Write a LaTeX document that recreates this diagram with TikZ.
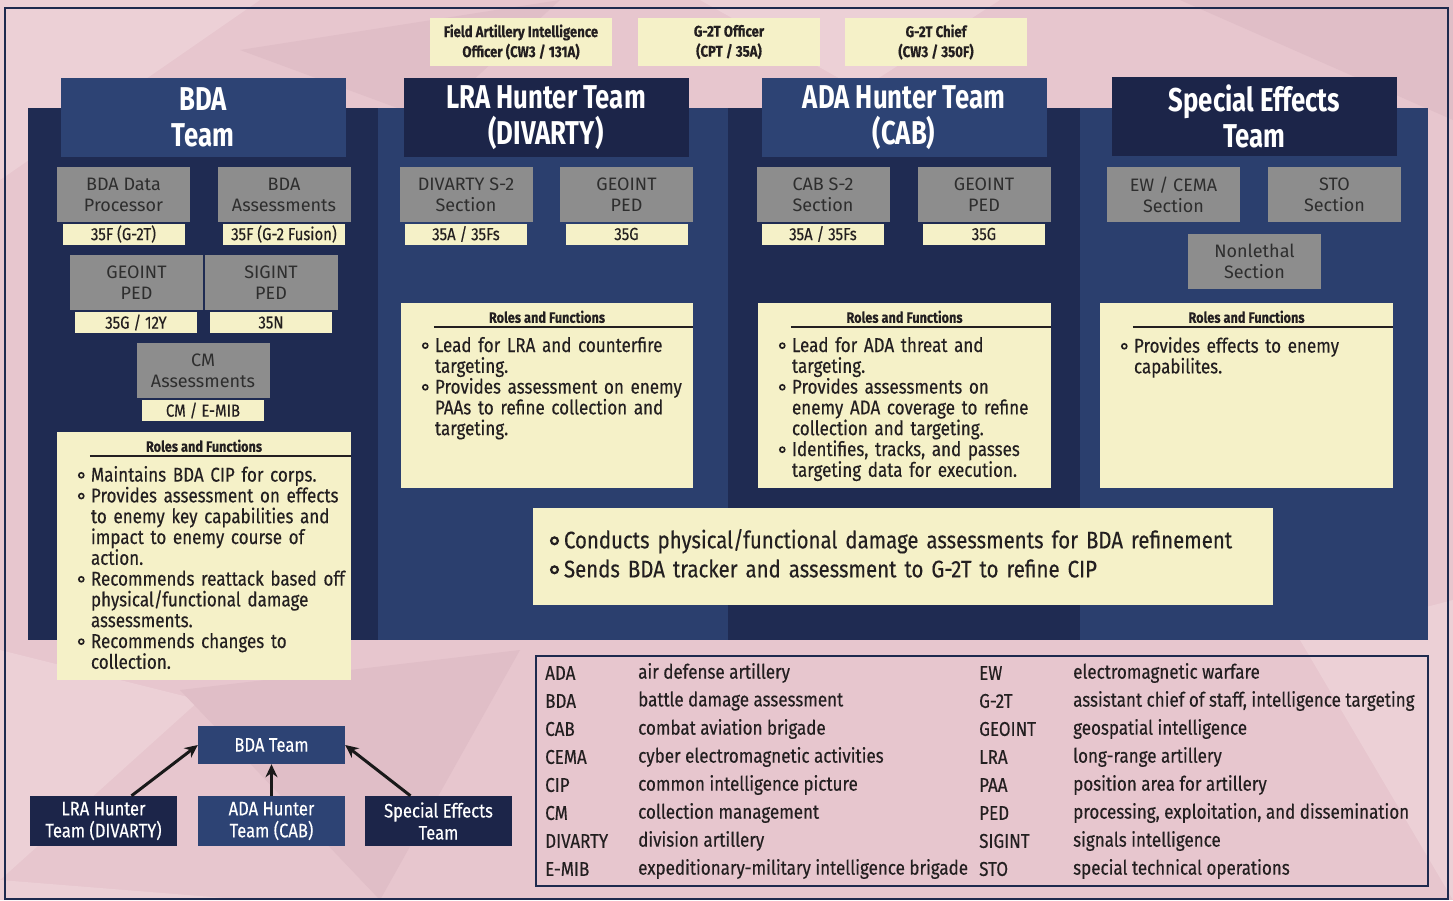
\documentclass[tikz,border=0pt]{standalone}
\usepackage{fontspec}
\setmainfont{Fira Sans}[FakeStretch=0.85,FakeBold=0.35]
\newfontfamily\widefont{Fira Sans}[FakeStretch=1.0]
\newfontfamily\headfont{Fira Sans}[FakeStretch=0.78]
\usetikzlibrary{arrows.meta,calc}

\definecolor{bgpink}{HTML}{E7C6CE}
\definecolor{pinkhi}{HTML}{ECD0D6}
\definecolor{pinklo}{HTML}{E0BEC7}
\definecolor{navyD}{HTML}{1C2549}
\definecolor{navyL}{HTML}{2D4374}
\definecolor{colD}{HTML}{1F2B52}
\definecolor{colL}{HTML}{2B3F6E}
\definecolor{boxgray}{HTML}{8D8D8D}
\definecolor{graytxt}{HTML}{2E2E2E}
\definecolor{paleyel}{HTML}{F5F1C8}
\definecolor{inktxt}{HTML}{231F20}
\definecolor{framecol}{HTML}{1E2A4E}

\newcommand\setfs[2]{\fontsize{#1}{#2}\selectfont}
\newcommand\rbul{\tikz[baseline=-0.6ex]\draw[line width=1.6pt,draw=inktxt,fill=paleyel](0,0) circle (2.5pt);}
\newcommand\bigbul{\tikz[baseline=-0.6ex]\draw[line width=2.2pt,draw=inktxt,fill=paleyel](0,0) circle (3.4pt);}
% bullet slot and hanging indent for the role lists
\newcommand\bl{\makebox[13pt][l]{\rbul}}
\newcommand\ind{\hspace*{13pt}}
\newcommand\bbl{\makebox[14pt][l]{\bigbul}}
% keep a fixed baseline distance between list lines
\newcommand\fixedlines{\lineskiplimit=-30pt\relax\lineskip=0pt\relax}

\begin{document}
\begin{tikzpicture}[x=1pt,y=-1pt,
  hdr/.style={text=white,font=\headfont\bfseries\setfs{33}{36},align=center,inner sep=0,
    minimum width=285,minimum height=79},
  hdrL/.style={hdr,fill=navyL},
  hdrD/.style={hdr,fill=navyD},
  sect/.style={fill=boxgray,text=graytxt,font=\widefont\setfs{18}{21},align=center,
    inner sep=0,minimum width=133,minimum height=55},
  tag/.style={fill=paleyel,text=inktxt,font=\setfs{17.5}{19},inner sep=0,
    minimum width=122,minimum height=21},
  topbox/.style={fill=paleyel,text=inktxt,font=\bfseries\setfs{15.5}{20},align=center,
    inner sep=0,minimum width=182,minimum height=48},
  rolebox/.style={fill=paleyel,inner sep=0},
  rtitle/.style={text=inktxt,font=\bfseries\setfs{15}{17},inner sep=0},
  rlist/.style={anchor=north west,inner sep=0,text=inktxt,align=left,text width=300,
    font=\setfs{20}{20.8}},
  rule/.style={draw=inktxt,line width=2pt},
  small/.style={text=white,font=\setfs{19.5}{22},align=center,inner sep=0,
    minimum width=147,minimum height=50},
  legtxt/.style={anchor=west,inner sep=0,text=inktxt,font=\setfs{20}{22}},
  arr/.style={draw=black!90,line width=3pt,-{Stealth[length=13pt,width=12pt]}}]

\useasboundingbox (0,0) rectangle (1453,900);

% ---------- faceted pink backdrop ----------
\fill[bgpink] (0,0) rectangle (1453,900);
\fill[pinkhi] (0,0) -- (260,0) -- (0,180) -- cycle;
\fill[pinklo] (240,50) -- (560,0) -- (430,120) -- cycle;
\fill[pinkhi] (700,0) -- (1000,0) -- (860,90) -- cycle;
\fill[pinklo] (1180,0) -- (1453,0) -- (1453,120) -- cycle;
\fill[pinkhi] (0,650) -- (200,700) -- (0,880) -- cycle;
\fill[pinklo] (180,690) -- (520,650) -- (380,900) -- cycle;
\fill[pinkhi] (0,880) -- (250,900) -- (0,900) -- cycle;
\fill[pinkhi] (1300,640) -- (1453,600) -- (1453,900) -- cycle;

% ---------- outer frame ----------
\draw[framecol,line width=2pt] (5,8) rectangle (1448,899);

% ---------- team columns ----------
\fill[colD] (28,108) rectangle (378,640);
\fill[colL] (378,108) rectangle (728,640);
\fill[colD] (728,108) rectangle (1080,640);
\fill[colL] (1080,108) rectangle (1428,640);

% ---------- staff officers ----------
\node[topbox] (fao) at (521,42) {Field Artillery Intelligence\\Officer (CW3 / 131A)};
\node[topbox] (g2to) at (729,42) {G-2T Officer\\(CPT / 35A)};
\node[topbox] (g2tc) at (936,42) {G-2T Chief\\(CW3 / 350F)};

% ---------- team headers ----------
\node[hdrL] (hbda) at (203,117.5) {BDA\\Team};
\node[hdrD] (hlra) at (546,117.5) {LRA Hunter Team\\(DIVARTY)};
\node[hdrL] (hada) at (904,117.5) {ADA Hunter Team\\(CAB)};
\node[hdrD] (hse) at (1254.5,116) {Special Effects\\Team};

% ---------- BDA team sections ----------
\node[sect] (bdp) at (123.5,194.5) {BDA Data\\Processor};
\node[tag] (tbdp) at (123.5,234) {35F (G-2T)};
\node[sect] (bas) at (284,194.5) {BDA\\Assessments};
\node[tag] (tbas) at (284,234) {35F (G-2 Fusion)};
\node[sect] (bgeo) at (136.5,282.5) {GEOINT\\PED};
\node[tag] (tbgeo) at (136,322.5) {35G / 12Y};
\node[sect] (bsig) at (271,282.5) {SIGINT\\PED};
\node[tag] (tbsig) at (271,322.5) {35N};
\node[sect] (bcm) at (203,370.5) {CM\\Assessments};
\node[tag] (tbcm) at (203,410.5) {CM / E-MIB};

% ---------- LRA hunter team sections ----------
\node[sect] (ls2) at (466,194.5) {DIVARTY S-2\\Section};
\node[tag] (tls2) at (466,234) {35A / 35Fs};
\node[sect] (lgeo) at (626.5,194.5) {GEOINT\\PED};
\node[tag] (tlgeo) at (626.5,234) {35G};

% ---------- ADA hunter team sections ----------
\node[sect] (as2) at (823,194.5) {CAB S-2\\Section};
\node[tag] (tas2) at (823,234) {35A / 35Fs};
\node[sect] (ageo) at (984,194.5) {GEOINT\\PED};
\node[tag] (tageo) at (984,234) {35G};

% ---------- special effects team sections ----------
\node[sect] (sew) at (1173.5,194.5) {EW / CEMA\\Section};
\node[sect] (ssto) at (1334.5,194.5) {STO\\Section};
\node[sect] (snl) at (1254.5,261) {Nonlethal\\Section};

% ---------- roles and functions ----------
\node[rolebox,minimum width=294,minimum height=248] (rbda) at (204,556) {};
\node[rolebox,minimum width=292,minimum height=185] (rlra) at (547,395.5) {};
\node[rolebox,minimum width=293,minimum height=185] (rada) at (904.5,395.5) {};
\node[rolebox,minimum width=293,minimum height=185] (rse) at (1246.5,395.5) {};

\foreach \r in {rbda,rlra,rada,rse}{
  \node[rtitle] (\r-title) at ($(\r.north)+(0,14)$) {Roles and Functions};
  \draw[rule] ($(\r.north west)+(33,24)$) -- ($(\r.north east)+(0,24)$);
}

\node[rlist] (lbda) at ($(rbda.north west)+(21,34)$) {\fixedlines
  \bl Maintains BDA CIP for corps.\\
  \bl Provides assessment on effects\\
  \ind to enemy key capabilities and\\
  \ind impact to enemy course of\\
  \ind action.\\
  \bl Recommends reattack based off\\
  \ind physical/functional damage\\
  \ind assessments.\\
  \bl Recommends changes to\\
  \ind collection.};

\node[rlist] (llra) at ($(rlra.north west)+(21,34)$) {\fixedlines
  \bl Lead for LRA and counterfire\\
  \ind targeting.\\
  \bl Provides assessment on enemy\\
  \ind PAAs to refine collection and\\
  \ind targeting.};

\node[rlist] (lada) at ($(rada.north west)+(21,34)$) {\fixedlines
  \bl Lead for ADA threat and\\
  \ind targeting.\\
  \bl Provides assessments on\\
  \ind enemy ADA coverage to refine\\
  \ind collection and targeting.\\
  \bl Identifies, tracks, and passes\\
  \ind targeting data for execution.};

\node[rlist] (lse) at ($(rse.north west)+(21,34)$) {\fixedlines
  \bl Provides effects to enemy\\
  \ind capabilites.};

% ---------- shared hunter team functions ----------
\node[rolebox,minimum width=740,minimum height=97] (shared) at (903,556.5) {};
\node[anchor=north west,inner sep=0,text=inktxt,align=left,text width=720,
  font=\setfs{24}{29}] (lshared)
  at ($(shared.north west)+(17,21)$) {\fixedlines
  \bbl Conducts physical/functional damage assessments for BDA refinement\\
  \bbl Sends BDA tracker and assessment to G-2T to refine CIP};

% ---------- reporting relationships ----------
\node[small,fill=navyL,minimum height=38] (gbda) at (271.5,745) {BDA Team};
\node[small,fill=navyD] (glra) at (103.5,821) {LRA Hunter\\Team (DIVARTY)};
\node[small,fill=navyL] (gada) at (271.5,821) {ADA Hunter\\Team (CAB)};
\node[small,fill=navyD] (gse) at (438.5,821) {Special Effects\\Team};
\draw[arr] ([xshift=28pt]glra.north) -- (gbda.west);
\draw[arr] (gada.north) -- (gbda.south);
\draw[arr] ([xshift=-28pt]gse.north) -- (gbda.east);

% ---------- acronyms ----------
\node[draw=framecol,line width=2pt,inner sep=0,minimum width=892,minimum height=230]
  (legend) at (982,771) {};
\foreach \a/\d [count=\i from 0] in {
  ADA/air defense artillery,
  BDA/battle damage assessment,
  CAB/combat aviation brigade,
  CEMA/cyber electromagnetic activities,
  CIP/common intelligence picture,
  CM/collection management,
  DIVARTY/division artillery,
  E-MIB/expeditionary-military intelligence brigade}{
  \node[legtxt] (la\i) at (545,{673+28*\i}) {\a};
  \node[legtxt] (ld\i) at (638,{673+28*\i}) {\d};
}
\foreach \a/\d [count=\i from 0] in {
  EW/electromagnetic warfare,
  G-2T/{assistant chief of staff, intelligence targeting},
  GEOINT/geospatial intelligence,
  LRA/long-range artillery,
  PAA/position area for artillery,
  PED/{processing, exploitation, and dissemination},
  SIGINT/signals intelligence,
  STO/special technical operations}{
  \node[legtxt] (lb\i) at (979,{673+28*\i}) {\a};
  \node[legtxt] (le\i) at (1073,{673+28*\i}) {\d};
}
\end{tikzpicture}
\end{document}
